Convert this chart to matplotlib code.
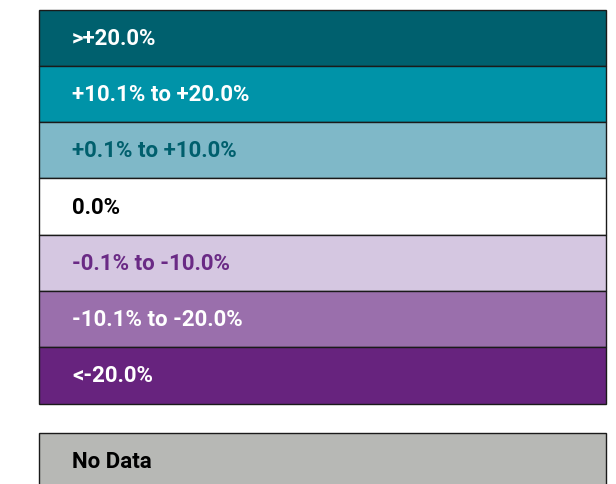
import numpy as np
import matplotlib
matplotlib.use('Agg')
import matplotlib.pyplot as plt

# ─── Legend classes ───
labels = [">+20.0%", "+10.1% to +20.0%", "+0.1% to +10.0%", "0.0%",
          "-0.1% to -10.0%", "-10.1% to -20.0%", "<-20.0%"]
fill_colors = ["#00606E", "#0093A8", "#7FB8C8", "#FFFFFF",
               "#D5C7E1", "#9A6FAC", "#67237E"]
text_colors = ["#FFFFFF", "#FFFFFF", "#005F6D", "#000000",
               "#6A2A85", "#FFFFFF", "#FFFFFF"]
nodata_label = "No Data"
nodata_color = "#B7B8B5"

W, H = 616, 484
fig = plt.figure(figsize=(W / 100, H / 100), dpi=100)
ax = fig.add_axes([0, 0, 1, 1])
ax.set_xlim(0, W)
ax.set_ylim(H, 0)
ax.axis("off")

left, right = 38.5, 606
row_h = 56.3
top = 9.5
font = dict(family=["Roboto", "DejaVu Sans"], fontweight="bold", fontsize=16)

centers = top + row_h * (np.arange(len(labels)) + 0.5)
ax.barh(centers, right - left, left=left, height=row_h, color=fill_colors,
        edgecolor="#1a1a1a", linewidth=1.0)
for y, lab, tc in zip(centers, labels, text_colors):
    ax.text(72, y + 1, lab, color=tc, ha="left", va="center", **font)

nd_top = 432.5
ax.barh([nd_top + row_h / 2], right - left, left=left, height=row_h,
        color=nodata_color, edgecolor="#1a1a1a", linewidth=1.0)
ax.text(72, nd_top + 30, nodata_label, color="#000000", ha="left", va="center", **font)

fig.savefig("out.png", dpi=100)
